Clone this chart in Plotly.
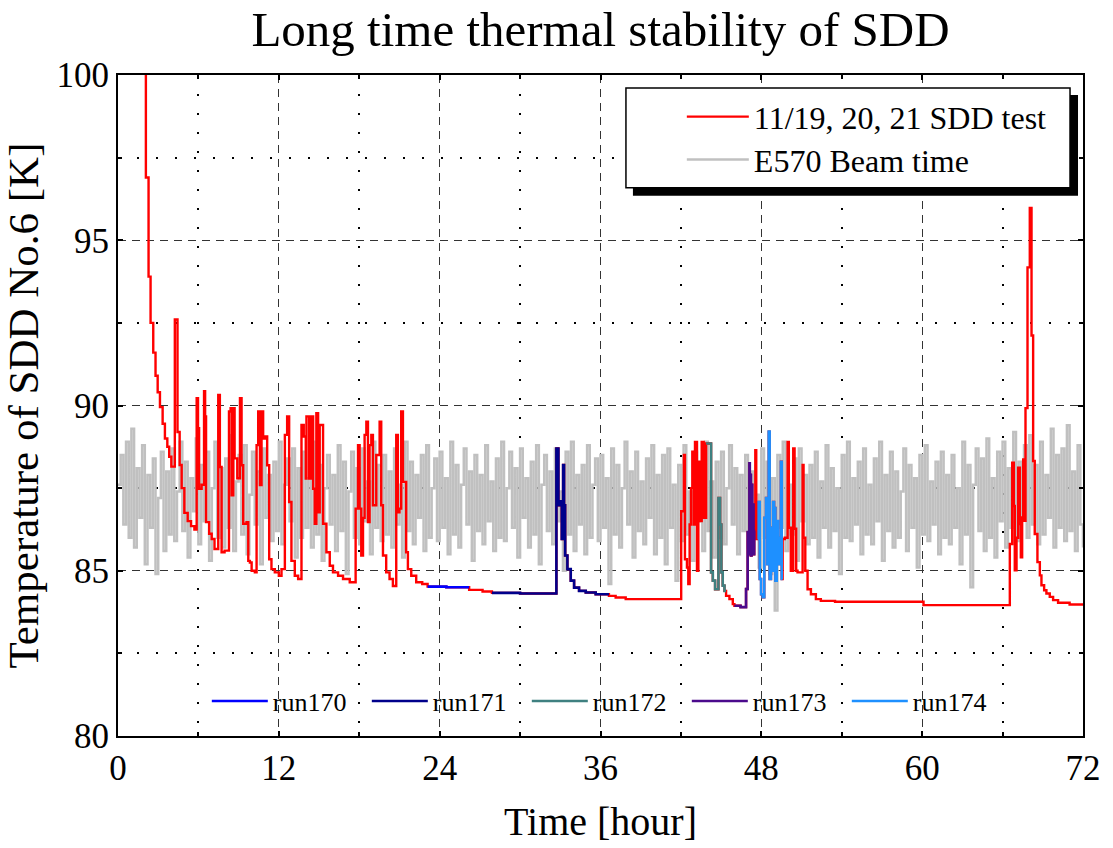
import plotly.graph_objects as go

# ---------------- data ----------------
# E570 beam time (gray), sampled every GRAY_STEP hours starting at t=0
GRAY_STEP = 0.2
gray_v = [
    87.6, 88.5, 86.4, 88.9, 86.0, 89.3, 85.7, 88.1, 86.6, 88.8, 85.2, 87.9, 86.3, 88.4, 84.9, 87.2, 88.6, 85.6, 88.0, 86.1,
    88.7, 85.9, 87.4, 88.9, 86.2, 88.3, 85.4, 87.8, 86.8, 89.0, 85.8, 88.2, 86.5, 88.6, 85.3, 87.5, 88.9, 86.0, 88.1, 85.7,
    88.4, 86.3, 89.1, 85.6, 87.7, 88.5, 86.1, 88.8, 85.5, 87.3, 88.6, 86.4, 88.0, 85.2, 88.7, 86.6, 87.9, 85.9, 88.3, 86.2,
    88.9, 85.8, 87.6, 88.4, 86.5, 88.7, 85.4, 88.1, 86.0, 88.6, 86.3, 87.8, 85.7, 88.9, 86.1, 88.2, 85.3, 87.5, 88.5, 86.4,
    87.9, 85.6, 88.8, 86.2, 88.3, 84.9, 87.4, 88.6, 86.0, 88.1, 85.8, 88.7, 86.5, 87.7, 85.5, 88.9, 86.3, 88.2, 85.9, 88.5,
    86.1, 88.0, 85.7, 88.7, 86.4, 87.6, 85.4, 88.9, 86.2, 88.3, 85.8, 87.9, 86.6, 88.5, 85.6, 88.8, 86.0, 87.5, 88.4, 85.9,
    88.6, 86.3, 87.8, 85.5, 88.9, 86.1, 88.2, 85.7, 87.6, 88.7, 86.4, 88.0, 85.3, 88.5, 86.2, 87.9, 85.8, 88.8, 86.5, 87.7,
    85.6, 88.4, 86.0, 88.9, 85.9, 87.5, 88.6, 86.3, 88.1, 85.4, 88.7, 86.6, 87.8, 85.7, 88.3, 86.1, 88.8, 85.2, 87.6, 88.5,
    86.2, 88.0, 85.8, 88.7, 86.5, 87.4, 85.0, 88.6, 86.1, 88.9, 85.6, 87.9, 86.4, 88.2, 85.5, 88.8, 86.0, 87.6, 88.4, 85.9,
    88.5, 86.3, 87.8, 84.6, 88.7, 86.1, 88.2, 85.7, 87.5, 88.9, 86.4, 88.0, 85.4, 88.6, 86.2, 87.7, 85.8, 88.4, 86.6, 88.8,
    85.5, 87.9, 86.0, 88.5, 85.2, 88.7, 86.3, 87.6, 84.7, 88.2, 85.9, 88.8, 86.1, 87.4, 85.3, 88.6, 86.5, 88.0, 85.6, 88.9,
    86.2, 87.7, 85.4, 88.3, 86.0, 88.6, 85.8, 87.5, 88.8, 86.4, 88.1, 85.5, 87.9, 86.2, 88.5, 85.7, 88.0, 86.6, 87.3, 85.1,
    88.7, 86.0, 88.3, 84.9, 87.8, 83.8, 88.5, 86.3, 88.9, 85.6, 87.6, 86.1, 88.4, 85.3, 88.7, 86.5, 87.9, 85.8, 88.2, 86.0,
    88.6, 85.4, 87.7, 86.3, 88.8, 85.7, 88.1, 86.2, 87.5, 84.9, 88.5, 86.0, 88.9, 85.9, 87.8, 86.4, 88.3, 85.5, 88.7, 86.1,
    87.6, 85.8, 88.4, 86.5, 88.9, 85.3, 87.9, 86.2, 88.6, 85.7, 88.0, 86.0, 87.4, 88.7, 85.6, 88.2, 86.3, 87.8, 85.1, 88.5,
    86.1, 88.8, 85.9, 87.7, 86.4, 88.3, 85.5, 88.6, 86.0, 87.9, 85.8, 88.5, 86.3, 87.5, 85.2, 88.9, 86.1, 88.2, 84.5, 87.6,
    88.7, 86.2, 88.4, 85.6, 89.0, 86.0, 87.8, 85.4, 88.6, 86.5, 88.9, 85.7, 88.1, 86.3, 89.2, 85.9, 88.3, 86.6, 88.8, 86.0,
    89.1, 86.4, 88.2, 85.8, 88.9, 86.1, 87.9, 86.6, 89.3, 85.7, 88.5, 86.3, 88.7, 85.9, 89.4, 86.2, 88.0, 85.6, 88.8, 86.4,
    85.7,
]

# 11/19, 20, 21 SDD test (red), step data: time [hour], temperature [K]
red_t = [
    2.05, 2.08, 2.28, 2.43, 2.63, 2.80, 2.96, 3.13, 3.33, 3.50, 3.68, 3.82, 3.98, 4.24, 4.44, 4.60, 4.75, 4.95, 5.20, 5.45, 5.70,
    5.87, 5.97, 6.05, 6.24, 6.42, 6.50, 6.57, 6.80, 6.99, 7.20, 7.48, 7.60, 7.73, 7.95, 8.28, 8.40, 8.48, 8.60, 8.70, 8.90,
    9.10, 9.22, 9.34, 9.59, 9.72, 9.84, 9.97, 10.21, 10.34, 10.46, 10.59, 10.71, 10.83, 10.96, 11.13, 11.28, 11.45, 11.70,
    12.00, 12.20, 12.45, 12.62, 12.77, 12.94, 13.19, 13.44, 13.69, 13.86, 14.01, 14.06, 14.26, 14.43, 14.56, 14.68, 14.80,
    14.93, 15.05, 15.30, 15.55, 15.80, 16.04, 16.42, 16.79, 17.29, 17.73, 17.91, 18.03, 18.15, 18.28, 18.40, 18.53, 18.65,
    18.77, 18.90, 19.02, 19.27, 19.52, 19.64, 19.77, 20.01, 20.26, 20.51, 20.76, 20.88, 21.00, 21.13, 21.26, 21.50, 21.63,
    21.88, 22.25, 22.70, 23.10, 24.50, 26.20, 27.20, 27.90, 30.00, 32.71, 32.86, 33.04, 33.11, 33.21, 33.28, 33.36, 33.53,
    33.78, 34.03, 34.40, 34.90, 35.64, 36.63, 37.13, 37.88,
    42.02, 42.22, 42.30, 42.45, 42.55, 42.65, 42.75, 42.85, 42.95, 43.05, 43.20, 43.30, 43.42, 43.55, 43.70,
    43.88, 44.25, 44.38, 44.55, 44.80, 44.92, 45.02, 45.12, 45.25, 45.37, 45.62, 45.87,
    45.99, 46.45, 46.86, 46.98, 47.11, 47.14, 47.18, 47.22, 47.27, 47.32, 47.37, 47.42, 47.47, 47.55, 47.62,
    47.73, 47.80, 47.88, 47.98, 48.10, 48.22, 48.35, 48.45, 48.55, 48.62, 48.72, 48.80, 48.88, 48.95, 49.05, 49.15,
    49.25, 49.35, 49.46, 49.52, 49.59, 49.75, 49.96, 50.05, 50.20, 50.38, 50.48, 50.60, 50.70, 51.08, 51.15, 51.28,
    51.45, 51.70, 52.07, 52.44, 53.50, 60.10,
    66.54, 66.72, 66.84, 66.91, 67.04, 67.16, 67.29, 67.36, 67.46, 67.54, 67.61, 67.71, 67.86, 68.03, 68.16, 68.28,
    68.40, 68.60, 68.78, 68.90, 69.10, 69.27, 69.52, 69.77, 70.14, 71.00, 72.00,
]
red_v = [
    104.0, 96.9, 93.9, 92.5, 91.6, 90.9, 90.4, 89.95, 89.45, 89.0, 88.75, 88.45, 88.15, 92.6, 89.2, 88.2, 87.5, 86.75, 86.5, 86.35, 86.25,
    90.22, 89.31, 87.48, 87.6, 90.43, 89.67, 86.47, 86.12, 85.96, 85.66, 90.32, 88.14, 85.56, 85.61, 89.82, 89.92, 87.28, 89.92, 88.4, 87.8,
    90.22, 88.19, 86.42, 86.47, 85.3, 85.25, 85.0, 84.95, 88.8, 89.82, 87.59, 89.82, 89.0, 89.06, 88.19, 85.35, 85.05, 84.95,
    84.85, 85.05, 89.11, 89.67, 87.08, 85.3, 84.85, 84.75, 89.41, 89.06, 87.79, 89.67, 87.79, 89.67, 87.48, 86.42, 89.77,
    86.77, 89.41, 86.42, 85.56, 85.15, 84.95, 84.85, 84.75, 84.65, 86.88, 88.8, 86.88, 85.46, 86.6, 89.11, 89.51, 86.47,
    88.8, 89.11, 86.98, 88.5, 89.51, 86.98, 85.46, 84.95, 84.75, 84.54, 89.11, 86.77, 86.88, 89.82, 87.69, 85.56, 85.05,
    84.85, 84.65, 84.6, 84.52, 84.5, 84.42, 84.37, 84.33, 84.31, 88.7, 86.98, 87.1, 85.96, 88.2, 86.98, 85.46, 85.05,
    84.7, 84.49, 84.39, 84.34, 84.29, 84.24, 84.19, 84.14,
    86.8, 88.5, 85.35, 85.1, 84.6, 86.4, 87.5, 88.6, 86.4, 88.9, 85.0, 88.3, 86.5, 88.9, 86.6,
    88.85, 84.95, 84.7, 84.44, 87.2, 86.4, 84.95, 84.55, 84.39, 84.24, 84.14, 83.99,
    83.94, 83.9, 84.45, 86.17, 88.25, 85.5, 87.9, 85.46, 87.6, 85.6, 87.0, 85.5, 86.2, 88.65, 85.96,
    85.96, 87.08, 84.75, 84.29, 84.2, 86.6, 87.2, 85.2, 89.21, 84.75, 86.3, 85.0, 87.08, 86.9, 84.7, 86.5,
    85.2, 86.0, 88.3, 84.75, 85.96, 86.0, 88.9, 86.3, 85.0, 88.7, 86.27, 85.0, 84.95, 88.2, 86.0, 85.0,
    84.44, 84.29, 84.14, 84.09, 84.06, 83.96,
    85.81, 88.27, 86.96, 85.01, 86.0, 88.12, 86.41, 85.41, 86.61, 88.37, 86.51, 89.92, 94.18, 95.98, 92.12, 88.32,
    86.11, 85.26, 84.86, 84.56, 84.41, 84.31, 84.21, 84.11, 84.03, 83.98, 83.97,
]

# DAQ runs: name, start [hour], end [hour], colour
run_names = ["run170", "run171", "run172", "run173", "run174"]
run_start = [23.10, 27.90, 43.88, 45.99, 47.73]
run_end = [26.20, 36.63, 45.37, 47.55, 49.59]
run_colors = ["#0000ff", "#00008b", "#3f8080", "#4b0a8c", "#1e90ff"]

title_text = "Long time thermal stability of SDD"
x_title = "Time [hour]"
y_title = "Temperature of SDD No.6 [K]"
red_name = "11/19, 20, 21 SDD test"
gray_name = "E570 Beam time"

# ---------------- figure ----------------
FONT = "Liberation Serif, Times New Roman, serif"
gray_t = [round(i * GRAY_STEP, 2) for i in range(len(gray_v))]

fig = go.Figure()
fig.add_trace(go.Scatter(x=gray_t, y=gray_v, mode="lines", line=dict(color="#c0c0c0", width=2.5, shape="hv"),
                         name=gray_name, legend="legend3"))
fig.add_trace(go.Scatter(x=red_t, y=red_v, mode="lines", line=dict(color="#ff0000", width=2.4, shape="hv"),
                         name=red_name, legend="legend"))


def value_at(t):
    v = red_v[0]
    for tt, vv in zip(red_t, red_v):
        if tt <= t:
            v = vv
        else:
            break
    return v


for name, s, e, c in zip(run_names, run_start, run_end, run_colors):
    xs = [t for t in red_t if s <= t < e]
    ys = [v for t, v in zip(red_t, red_v) if s <= t < e]
    xs.append(e)
    ys.append(value_at(e - 1e-9))
    fig.add_trace(go.Scatter(x=xs, y=ys, mode="lines", line=dict(color=c, width=2.6, shape="hv"),
                             name=name, legend="legend2"))

L, R, T, B = 118, 28, 75, 110
W, H = 1113, 848
PW, PH = W - L - R, H - T - B


def px(x):
    return (x - L) / PW


def py(y):
    return (H - B - y) / PH


axis_common = dict(
    showline=True, linecolor="black", linewidth=2, mirror="ticks",
    ticks="inside", ticklen=5, tickcolor="black", tickwidth=1.5,
    showgrid=True, gridcolor="#333333", gridwidth=1, griddash="8px,6px",
    zeroline=False,
    tickfont=dict(family=FONT, size=35, color="black"),
)

fig.update_xaxes(
    range=[0, 72], dtick=12, tick0=0,
    minor=dict(dtick=6, showgrid=True, gridcolor="black", gridwidth=1.5, griddash="2px,17px",
               ticks="inside", ticklen=4, tickcolor="black"),
    title=dict(text=x_title, font=dict(family=FONT, size=40, color="black"), standoff=20),
    **axis_common,
)
fig.update_yaxes(
    range=[80, 100], dtick=5, tick0=80,
    minor=dict(dtick=2.5, showgrid=True, gridcolor="black", gridwidth=1.5, griddash="2px,17px",
               ticks="inside", ticklen=4, tickcolor="black"),
    title=dict(text=y_title, font=dict(family=FONT, size=43, color="black"), standoff=4),
    **axis_common,
)

shapes = [
    dict(type="rect", xref="paper", yref="paper", x0=px(634), x1=px(1080), y0=py(196), y1=py(95),
         fillcolor="black", line=dict(width=0), layer="above"),
    dict(type="rect", xref="paper", yref="paper", x0=px(627), x1=px(1072), y0=py(188), y1=py(88),
         fillcolor="white", line=dict(color="black", width=1.5), layer="above"),
]

leg_common = dict(bgcolor="rgba(0,0,0,0)", borderwidth=0, xanchor="left", yanchor="middle")
fig.update_layout(
    width=W, height=H,
    margin=dict(l=L, r=R, t=T, b=B),
    paper_bgcolor="white", plot_bgcolor="white",
    title=dict(text=title_text, x=0.5, xref="paper", xanchor="center", y=1 - 29 / H, yanchor="middle",
               font=dict(family=FONT, size=49, color="black")),
    shapes=shapes,
    legend=dict(x=px(683), y=py(117), font=dict(family=FONT, size=32, color="black"), itemwidth=62, **leg_common),
    legend3=dict(x=px(683), y=py(160), font=dict(family=FONT, size=32, color="black"), itemwidth=62, **leg_common),
    legend2=dict(x=px(207), y=py(703), orientation="h", font=dict(family=FONT, size=26, color="black"),
                 itemwidth=56, entrywidth=89, entrywidthmode="pixels", **leg_common),
    showlegend=True,
)

fig.write_html("out.html")
